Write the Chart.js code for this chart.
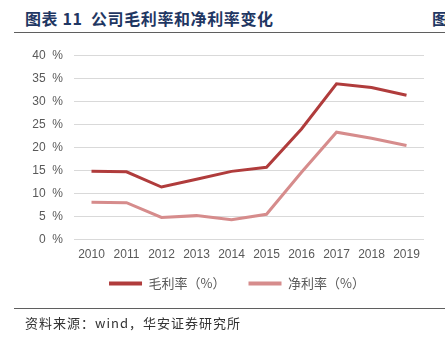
<!DOCTYPE html>
<html>
<head>
<meta charset="utf-8">
<script src="https://cdn.jsdelivr.net/npm/chart.js@4/dist/chart.umd.min.js"></script>
<style>
    html, body {
        margin: 0;
        padding: 0;
        width: 445px;
        height: 342px;
        overflow: hidden;
        background: #ffffff;
        position: relative;
    }
    .title {
        position: absolute;
        left: 25px;
        top: 7px;
        font-family: "Noto Sans CJK SC", sans-serif;
        font-weight: bold;
        font-size: 16px;
        line-height: 22px;
        letter-spacing: 0.6px;
        color: #1f3763;
        white-space: nowrap;
    }
    .title-next {
        position: absolute;
        left: 432px;
        top: 7px;
        font-family: "Noto Sans CJK SC", sans-serif;
        font-weight: bold;
        font-size: 16px;
        line-height: 22px;
        color: #1f3763;
    }
    .rule {
        position: absolute;
        left: 14px;
        width: 431px;
        height: 0;
        border-top: 1.5px solid #5f5f5f;
    }
    .source {
        position: absolute;
        left: 25px;
        top: 314px;
        font-family: "Noto Sans CJK SC", serif;
        font-size: 13px;
        line-height: 18px;
        letter-spacing: 1px;
        color: #333333;
        white-space: nowrap;
    }
    .chart-box {
        position: absolute;
        left: 0;
        top: 37px;
        width: 445px;
        height: 279px;
    }
</style>
</head>
<body>
<div class="title">图表 11&nbsp; 公司毛利率和净利率变化</div>
<div class="title-next">图</div>
<div class="rule" style="top: 32px;"></div>
<div class="chart-box"><canvas id="marginChart"></canvas></div>
<div class="rule" style="top: 308px;"></div>
<div class="source">资料来源：wind，华安证券研究所</div>

<script>
// Data
const years = ['2010', '2011', '2012', '2013', '2014', '2015', '2016', '2017', '2018', '2019'];
const grossMargin = [14.8, 14.7, 11.4, 13.1, 14.8, 15.7, 24.0, 33.8, 33.0, 31.3];
const netMargin = [8.1, 8.0, 4.8, 5.2, 4.3, 5.5, 14.6, 23.3, 22.0, 20.4];
const yTicks = [0, 5, 10, 15, 20, 25, 30, 35, 40];

// Pull the legend up closer to the axis labels and centre it under the plot
const legendShift = {
    id: 'legendShift',
    afterLayout: function(chart) {
        if (chart.legend) {
            chart.legend.top -= 16;
            chart.legend.bottom -= 16;
            chart.legend.left += 25;
            chart.legend.right += 25;
        }
    }
};

document.addEventListener('DOMContentLoaded', function() {
    const ctx = document.getElementById('marginChart').getContext('2d');

    new Chart(ctx, {
        type: 'line',
        data: {
            labels: years,
            datasets: [{
                label: '毛利率（%）',
                data: grossMargin,
                borderColor: '#b03c3c',
                backgroundColor: '#b03c3c',
                borderWidth: 3,
                tension: 0,
                pointRadius: 0
            }, {
                label: '净利率（%）',
                data: netMargin,
                borderColor: '#d68c8c',
                backgroundColor: '#d68c8c',
                borderWidth: 3,
                tension: 0,
                pointRadius: 0
            }]
        },
        plugins: [legendShift],
        options: {
            responsive: true,
            maintainAspectRatio: false,
            animation: false,
            layout: {
                padding: { top: 0, right: 21, left: 0, bottom: 0 }
            },
            scales: {
                x: {
                    offset: true,
                    grid: { display: false, drawTicks: false },
                    border: { display: false },
                    ticks: {
                        padding: 8,
                        maxRotation: 0,
                        color: '#595959',
                        font: { family: 'Liberation Sans, Arial, sans-serif', size: 12 }
                    }
                },
                y: {
                    min: 0,
                    max: 40,
                    afterBuildTicks: function(scale) {
                        scale.ticks = yTicks.map(v => ({ value: v }));
                    },
                    grid: { color: '#d9d9d9', lineWidth: 1, drawTicks: false },
                    border: { display: false },
                    ticks: {
                        padding: 11,
                        color: '#595959',
                        font: { family: 'Liberation Sans, Arial, sans-serif', size: 12 },
                        callback: function(value) {
                            return value + '  %';
                        }
                    },
                    afterFit: function(scale) {
                        scale.width = 74;
                    }
                }
            },
            plugins: {
                legend: {
                    position: 'bottom',
                    labels: {
                        boxWidth: 33,
                        boxHeight: 4,
                        padding: 23,
                        color: '#595959',
                        font: { family: 'Noto Sans CJK SC, sans-serif', size: 13 },
                        generateLabels: function(chart) {
                            return Chart.defaults.plugins.legend.labels.generateLabels(chart)
                                .map(item => Object.assign(item, { lineWidth: 0 }));
                        }
                    }
                },
                tooltip: { enabled: false }
            }
        }
    });
});
</script>
</body>
</html>
